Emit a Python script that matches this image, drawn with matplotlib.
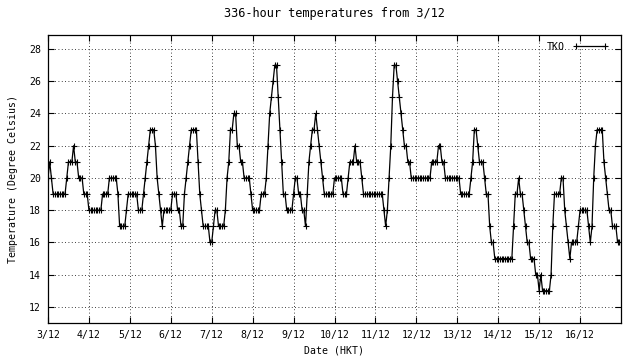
import numpy as np
import matplotlib
matplotlib.use('Agg')
import matplotlib.pyplot as plt

# hourly readings, station TKO, starting 3/12 00:00 (HKT)
day_labels = ['3/12', '4/12', '5/12', '6/12', '7/12', '8/12', '9/12',
              '10/12', '11/12', '12/12', '13/12', '14/12', '15/12', '16/12']

temps = [
    # 3/12
    20, 21, 20, 19, 19, 19, 19, 19, 19, 19, 19, 20, 21, 21, 21, 22, 21, 21, 20, 20, 20, 19, 19, 19,
    # 4/12
    18, 18, 18, 18, 18, 18, 18, 18, 19, 19, 19, 19, 20, 20, 20, 20, 20, 19, 17, 17, 17, 17, 18, 19,
    # 5/12
    19, 19, 19, 19, 19, 18, 18, 18, 19, 20, 21, 22, 23, 23, 23, 22, 20, 19, 18, 17, 18, 18, 18, 18,
    # 6/12
    18, 19, 19, 19, 18, 18, 17, 17, 19, 20, 21, 22, 23, 23, 23, 23, 21, 19, 18, 17, 17, 17, 17, 16,
    # 7/12
    16, 17, 18, 18, 17, 17, 17, 17, 18, 20, 21, 23, 23, 24, 24, 22, 22, 21, 21, 20, 20, 20, 20, 19,
    # 8/12
    18, 18, 18, 18, 18, 19, 19, 19, 20, 22, 24, 25, 26, 27, 27, 25, 23, 21, 19, 19, 18, 18, 18, 18,
    # 9/12
    19, 20, 20, 19, 19, 18, 18, 17, 19, 21, 22, 23, 23, 24, 23, 22, 21, 20, 19, 19, 19, 19, 19, 19,
    # 10/12
    20, 20, 20, 20, 20, 19, 19, 19, 20, 21, 21, 21, 22, 21, 21, 21, 20, 19, 19, 19, 19, 19, 19, 19,
    # 11/12
    19, 19, 19, 19, 19, 18, 17, 18, 20, 22, 25, 27, 27, 26, 25, 24, 23, 22, 22, 21, 21, 20, 20, 20,
    # 12/12
    20, 20, 20, 20, 20, 20, 20, 20, 20, 21, 21, 21, 21, 22, 22, 21, 21, 20, 20, 20, 20, 20, 20, 20,
    # 13/12
    20, 20, 19, 19, 19, 19, 19, 19, 20, 21, 23, 23, 22, 21, 21, 21, 20, 19, 19, 17, 16, 16, 15, 15,
    # 14/12
    15, 15, 15, 15, 15, 15, 15, 15, 15, 17, 19, 19, 20, 19, 19, 18, 17, 16, 16, 15, 15, 15, 14, 14,
    # 15/12
    13, 14, 13, 13, 13, 13, 13, 14, 17, 19, 19, 19, 19, 20, 20, 18, 17, 16, 15, 16, 16, 16, 16, 17,
    # 16/12
    18, 18, 18, 18, 18, 17, 16, 17, 20, 22, 23, 23, 23, 23, 21, 20, 19, 18, 18, 17, 17, 17, 16, 16,
]

hours = np.arange(len(temps))

plt.rcParams['font.family'] = ['DejaVu Sans Mono']
plt.rcParams['font.size'] = 7.1

fig = plt.figure(figsize=(6.4, 3.6), dpi=100)
ax = fig.add_axes([48 / 640, 1 - 323 / 360, (621 - 48) / 640, (323 - 35) / 360])

ax.plot(hours, temps, color='black', lw=0.9, marker='+', ms=5, mew=0.8, label='TKO')

ax.set_xlim(0, 336)
ax.set_ylim(11, 28.87)
ax.set_xticks(np.arange(0, 336, 24))
ax.set_xticklabels(day_labels)
ax.set_yticks(range(12, 29, 2))

ax.grid(True, color='black', linestyle=(0, (1, 3)), lw=0.6)
ax.tick_params(direction='in', top=True, right=True, length=4, width=0.8, pad=5)
for s in ax.spines.values():
    s.set_linewidth(0.9)

ax.set_title('336-hour temperatures from 3/12', pad=13)
ax.set_xlabel('Date (HKT)', labelpad=4)
ax.set_ylabel('Temperature (Degree Celsius)', labelpad=8)

ax.legend(loc='upper right', frameon=False, markerfirst=False, handlelength=3.6,
          numpoints=2, borderaxespad=0.3, handletextpad=0.8,
          bbox_to_anchor=(0.99, 1.0))

fig.savefig('out.png', dpi=100)
